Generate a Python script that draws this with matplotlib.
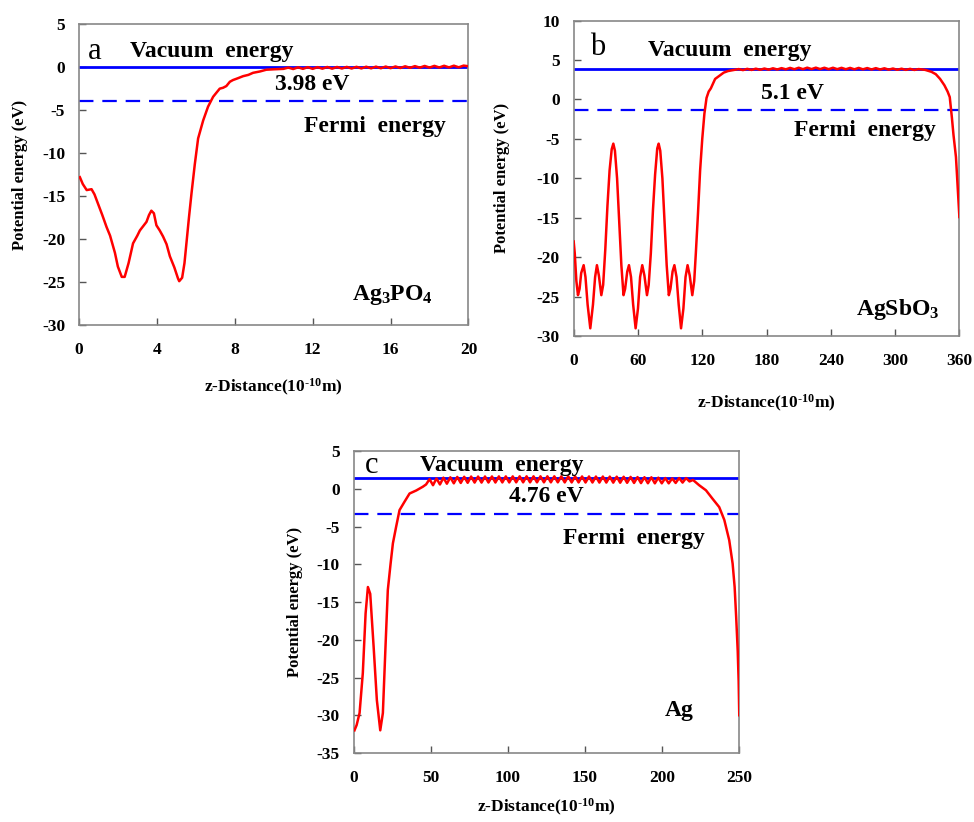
import numpy as np
import matplotlib
matplotlib.use("Agg")
import matplotlib.pyplot as plt

plt.rcParams['font.family'] = ['Liberation Serif', 'DejaVu Serif']
plt.rcParams['font.weight'] = 'bold'
plt.rcParams['axes.labelweight'] = 'bold'
plt.rcParams['mathtext.fontset'] = 'custom'
plt.rcParams['mathtext.rm'] = 'Liberation Serif:bold'
plt.rcParams['mathtext.default'] = 'rm'
plt.rcParams['axes.unicode_minus'] = False

# ---- panel a: Ag3PO4 ----
a_x = [0.05, 0.2, 0.4, 0.65, 0.8, 1.0, 1.2, 1.42, 1.6, 1.85, 2.0, 2.2, 2.35,
       2.55, 2.78, 3.0, 3.13, 3.3, 3.47, 3.6, 3.72, 3.85, 3.98, 4.15, 4.32,
       4.5, 4.67, 4.9, 5.09, 5.15, 5.3, 5.42, 5.52, 5.65, 5.78, 5.95, 6.12,
       6.38, 6.63, 6.89, 7.05, 7.23, 7.4, 7.57, 7.75, 7.91, 8.15, 8.43, 8.7,
       8.94, 9.3, 9.62, 10.0, 10.5]
a_y = [-12.8, -13.6, -14.3, -14.2, -14.8, -16.0, -17.2, -18.6, -19.6, -21.6,
       -23.2, -24.4, -24.4, -22.8, -20.5, -19.6, -19.0, -18.5, -18.0, -17.2,
       -16.7, -17.0, -18.4, -19.0, -19.7, -20.6, -22.0, -23.3, -24.6, -24.9,
       -24.5, -22.8, -20.5, -17.5, -14.7, -11.3, -8.3, -6.2, -4.6, -3.45,
       -3.0, -2.5, -2.4, -2.2, -1.7, -1.5, -1.3, -1.05, -0.9, -0.66, -0.5,
       -0.3, -0.25, -0.2]
# small oscillation in the vacuum region, 10.75 .. 20
a_tail_y = [-0.05, -0.22, -0.02, -0.2, 0.0, -0.2, 0.0, -0.18, 0.02, -0.18,
            0.02, -0.16, 0.03, -0.16, 0.04, -0.15, 0.05, -0.14, 0.06, -0.13,
            0.07, -0.12, 0.08, -0.1, 0.1, -0.08, 0.12, -0.06, 0.14, -0.05,
            0.15, -0.04, 0.16, -0.03, 0.17, -0.02, 0.18, 0.1]
a_vac, a_fermi = 0.0, -3.98

# ---- panel b: AgSbO3 ----
b_x = [0, 1, 2.5, 4, 5.5, 7, 9.3, 11, 13, 15.5, 18, 20, 21.7, 23.5, 25.8,
       27.5, 29.5, 31.5, 33.5, 35.5, 37, 38.5, 40.5, 42.5, 44.5, 46.5, 48, 50,
       51.6, 53.5, 55.5, 57.8, 60, 62, 64, 66, 68.4, 70, 72, 74, 76, 78, 79.3,
       80.8, 82.8, 84.8, 86.8, 88.8, 90.3, 92.3, 94, 96, 98, 100.2, 102.4,
       104.4, 106.3, 108.3, 110.7, 112.5, 114, 116, 118, 120, 122, 124, 126,
       128, 130, 132, 134, 137, 140, 144, 150]
b_y = [-18, -19.5, -23, -24.8, -24, -22, -21, -22.5, -26, -29, -26, -22.5,
       -21, -22.3, -24.8, -23.5, -19, -13.5, -9, -6.3, -5.6, -6.5, -10, -15.5,
       -21, -24.8, -24, -21.8, -21, -22.5, -26, -29, -26.5, -22.5, -21, -22.3,
       -24.8, -23.5, -19.5, -14, -9.5, -6.2, -5.6, -6.5, -10, -15.5, -21,
       -24.8, -24, -21.8, -21, -22.5, -26, -29, -26.5, -22.5, -21, -22.3,
       -24.8, -23, -19.5, -14.5, -9, -5, -1.8, 0.2, 1.0, 1.4, 2.0, 2.6, 2.8,
       3.1, 3.4, 3.6, 3.75]
# plateau 154 .. 322
b_mid_y = [3.85, 3.72, 3.88, 3.74, 3.9, 3.76, 3.92, 3.78, 3.95, 3.8, 3.97,
           3.82, 4.0, 3.83, 4.02, 3.84, 4.03, 3.85, 4.03, 3.85, 4.02, 3.84,
           4.02, 3.84, 4.01, 3.83, 4.0, 3.82, 4.0, 3.82, 3.98, 3.8, 3.97, 3.8,
           3.95, 3.78, 3.92, 3.76, 3.9, 3.75, 3.88, 3.74, 3.85]
b_end_x = [328, 334, 338, 342, 346, 349, 351, 353, 354.5, 356.8, 358.4, 360]
b_end_y = [3.75, 3.5, 3.2, 2.6, 1.8, 1.0, 0.3, -2.3, -4.5, -7.3, -11.0, -14.9]
b_vac, b_fermi = 3.8, -1.3

# ---- panel c: Ag ----
c_x = [0.6, 2.0, 3.9, 6.0, 7.8, 9.3, 10.8, 13.0, 15.1, 17.3, 19.0, 20.7,
       22.2, 24.0, 25.5, 27.6, 29.8, 33.0, 36.3, 40.6, 44.9, 47.0]
c_y = [-32.0, -31.3, -29.7, -24.4, -16.5, -13.0, -13.9, -20.9, -28.0, -32.0,
       -29.7, -20.9, -13.4, -9.9, -7.2, -5.0, -2.8, -1.7, -0.6, -0.2, 0.3, 0.6]
# rippled plateau 49.25 .. 220
c_mid_y = [1.3, 0.5, 1.4, 0.6, 1.5, 0.7, 1.55, 0.75, 1.6, 0.8, 1.62, 0.82,
           1.65, 0.85, 1.65, 0.85, 1.66, 0.86, 1.66, 0.86, 1.67, 0.87, 1.67,
           0.87, 1.67, 0.88, 1.68, 0.88, 1.68, 0.88, 1.68, 0.88, 1.68, 0.88,
           1.68, 0.88, 1.68, 0.88, 1.67, 0.87, 1.67, 0.87, 1.67, 0.87, 1.66,
           0.86, 1.66, 0.86, 1.65, 0.85, 1.65, 0.85, 1.64, 0.84, 1.63, 0.83,
           1.62, 0.82, 1.6, 0.8, 1.58, 0.78, 1.56, 0.76, 1.55, 0.75, 1.5, 0.75,
           1.45, 0.75, 1.4, 0.8, 1.45, 0.85, 1.45, 1.0, 1.2]
c_end_x = [224, 228.4, 232.7, 237, 240.3, 243.5, 245.7, 247.0, 248.0, 249.0,
           249.6, 250.0]
c_end_y = [0.5, -0.17, -1.3, -2.4, -4.1, -6.8, -9.9, -13.0, -17.0, -21.5,
           -25.5, -30.0]
c_vac, c_fermi = 1.5, -3.26

a_X = np.concatenate([a_x, np.linspace(10.75, 20, len(a_tail_y))])
a_Y = np.concatenate([a_y, a_tail_y])
b_X = np.concatenate([b_x, np.linspace(154, 322, len(b_mid_y)), b_end_x])
b_Y = np.concatenate([b_y, b_mid_y, b_end_y])
c_X = np.concatenate([c_x, np.linspace(49.25, 220, len(c_mid_y)), c_end_x])
c_Y = np.concatenate([c_y, c_mid_y, c_end_y])

panels = [
    dict(rect=[0.081, 0.6046, 0.400, 0.366], x=a_X, y=a_Y, vac=a_vac,
         fermi=a_fermi, xlim=(0, 20), xticks=np.arange(0, 21, 4),
         ylim=(-30, 5), yticks=np.arange(-30, 6, 5), letter='a',
         letter_pos=(0.041, 0.91), vac_pos=(0.34, 0.91),
         gap_label='3.98 eV', gap_pos=(0.60, 0.80),
         fermi_pos=(0.76, 0.66), name=r'Ag$_3$PO$_4$', name_pos=(0.805, 0.10),
         xlab_y=-0.209, ylab_x=-0.151),
    dict(rect=[0.589, 0.591, 0.396, 0.384], x=b_X, y=b_Y, vac=b_vac,
         fermi=b_fermi, xlim=(0, 360), xticks=np.arange(0, 361, 60),
         ylim=(-30, 10), yticks=np.arange(-30, 11, 5), letter='b',
         letter_pos=(0.063, 0.915), vac_pos=(0.404, 0.905),
         gap_label='5.1 eV', gap_pos=(0.568, 0.768),
         fermi_pos=(0.754, 0.652), name=r'AgSbO$_3$', name_pos=(0.84, 0.085),
         xlab_y=-0.212, ylab_x=-0.187),
    dict(rect=[0.363, 0.084, 0.396, 0.367], x=c_X, y=c_Y, vac=c_vac,
         fermi=c_fermi, xlim=(0, 250), xticks=np.arange(0, 251, 50),
         ylim=(-35, 5), yticks=np.arange(-35, 6, 5), letter='c',
         letter_pos=(0.046, 0.954), vac_pos=(0.383, 0.954),
         gap_label='4.76 eV', gap_pos=(0.499, 0.849),
         fermi_pos=(0.728, 0.711), name='Ag', name_pos=(0.845, 0.142),
         xlab_y=-0.179, ylab_x=-0.153),
]

fig = plt.figure(figsize=(9.74, 8.22), dpi=100)

for p in panels:
    ax = fig.add_axes(p['rect'])
    ax.axhline(p['vac'], color='#0000ff', lw=2.0, zorder=2)
    ax.axhline(p['fermi'], color='#0000ff', lw=1.6, dashes=(6.5, 4), zorder=2)
    ax.plot(p['x'], p['y'], color='#ff0000', lw=1.8, zorder=3)

    ax.set_xlim(*p['xlim'])
    ax.set_ylim(*p['ylim'])
    ax.set_xticks(p['xticks'])
    ax.set_yticks(p['yticks'])
    ax.tick_params(direction='in', length=5, width=1, color='#555555',
                   labelsize=12.5, pad=10, top=False, right=False)
    ax.tick_params(axis='x', pad=12)
    for s in ax.spines.values():
        s.set_color('#888888')
        s.set_linewidth(1.2)
    ax.set_xlabel(r'z-Distance(10$^{\text{-10}}$m)', fontsize=12.5,
                  fontweight='bold', va='center')
    ax.set_ylabel('Potential energy (eV)', fontsize=12, fontweight='bold',
                  va='center')
    ax.xaxis.set_label_coords(0.5, p['xlab_y'])
    ax.yaxis.set_label_coords(p['ylab_x'], 0.5)

    tr = ax.transAxes
    ax.text(*p['letter_pos'], p['letter'], transform=tr, fontsize=22,
            fontweight='normal', ha='center', va='center')
    ax.text(*p['vac_pos'], 'Vacuum  energy', transform=tr, fontsize=17,
            ha='center', va='center')
    ax.text(*p['gap_pos'], p['gap_label'], transform=tr, fontsize=17,
            ha='center', va='center')
    ax.text(*p['fermi_pos'], 'Fermi  energy', transform=tr, fontsize=17,
            ha='center', va='center')
    ax.text(*p['name_pos'], p['name'], transform=tr, fontsize=17,
            ha='center', va='center')

fig.savefig('out.png', dpi=100)
